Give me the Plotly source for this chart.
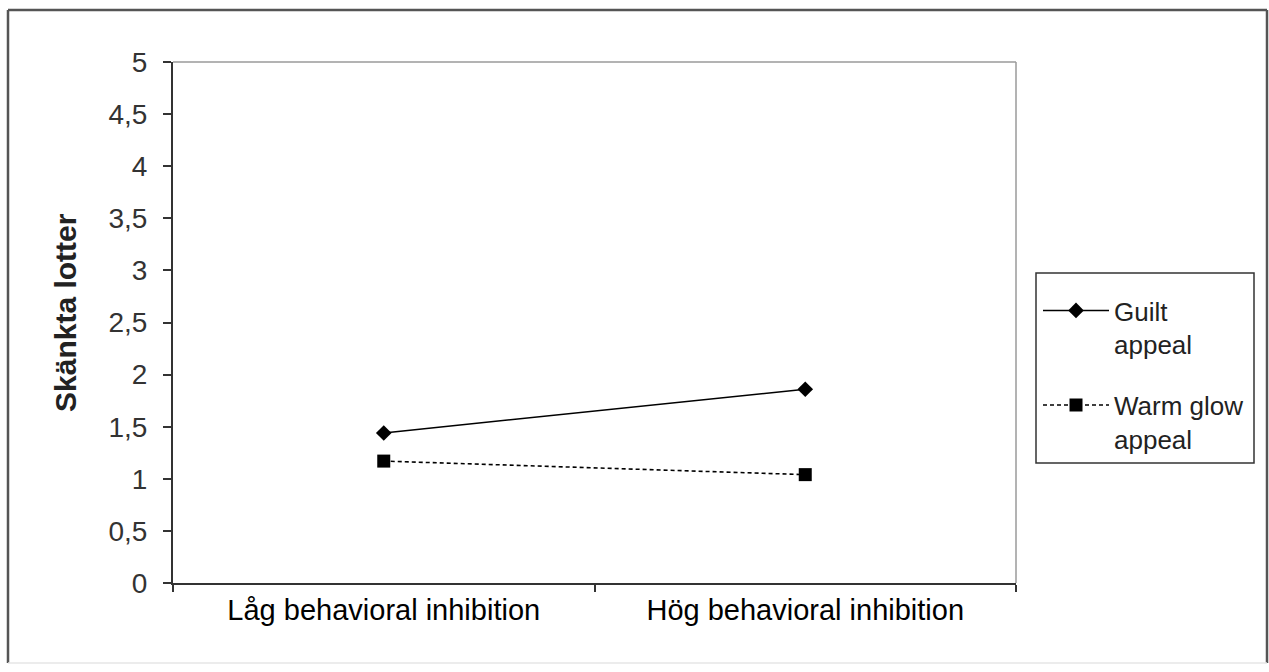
import plotly.graph_objects as go

categories = ["Låg behavioral inhibition", "Hög behavioral inhibition"]
guilt = [1.44, 1.86]
warm_glow = [1.17, 1.04]
series_names = ["Guilt<br>appeal", "Warm glow<br>appeal"]
y_ticks = [0, 0.5, 1, 1.5, 2, 2.5, 3, 3.5, 4, 4.5, 5]
y_title = "<b>Skänkta lotter</b>"

W, H = 1269, 672
L, R, T, B = 173, 1016, 62, 583
pw, ph = R - L, B - T

def px(x):
    return (x - L) / pw

def py(y):
    return (B - y) / ph

fig = go.Figure()
fig.add_trace(go.Scatter(
    x=categories, y=guilt, name=series_names[0], mode="lines+markers",
    line=dict(color="black", width=1.5),
    marker=dict(symbol="diamond", size=12, color="black"),
    legendgroup="a",
))
fig.add_trace(go.Scatter(
    x=categories, y=warm_glow, name=series_names[1], mode="lines+markers",
    line=dict(color="black", width=1.6, dash="4px,3px"),
    marker=dict(symbol="square", size=13, color="black"),
    legendgroup="b",
))

font_family = "Arial, Liberation Sans, sans-serif"

shapes = [
    # plot frame top and right (gray)
    dict(type="line", xref="paper", yref="paper", x0=0, x1=1, y0=1, y1=1,
         line=dict(color="#9a9a9a", width=1.5)),
    dict(type="line", xref="paper", yref="paper", x0=1, x1=1, y0=0, y1=1,
         line=dict(color="#9a9a9a", width=1.5)),
    # outer chart border
    dict(type="line", xref="paper", yref="paper", x0=px(8), x1=px(1267), y0=py(10), y1=py(10),
         line=dict(color="#555555", width=2.5)),
    dict(type="line", xref="paper", yref="paper", x0=px(8), x1=px(8), y0=py(10), y1=py(663),
         line=dict(color="#555555", width=2.5)),
    dict(type="line", xref="paper", yref="paper", x0=px(1267), x1=px(1267), y0=py(10), y1=py(663),
         line=dict(color="#555555", width=2.5)),
    dict(type="line", xref="paper", yref="paper", x0=px(8), x1=px(1267), y0=py(663), y1=py(663),
         line=dict(color="#e6e6e6", width=1.5)),
    # legend box
    dict(type="rect", xref="paper", yref="paper", x0=px(1036), x1=px(1254), y0=py(273), y1=py(463),
         line=dict(color="#333333", width=1.5), fillcolor="rgba(0,0,0,0)", layer="above"),
]

fig.update_layout(
    width=W, height=H,
    margin=dict(l=L, r=W - R, t=T, b=H - B, pad=0),
    paper_bgcolor="white", plot_bgcolor="white",
    separators=", ",
    font=dict(family=font_family, color="black"),
    showlegend=True,
    shapes=shapes,
    annotations=[dict(
        text=y_title, xref="paper", yref="paper", x=px(65), y=py(313),
        xanchor="center", yanchor="middle", textangle=-90, showarrow=False,
        font=dict(size=30, family=font_family, color="#222222"),
    )],
    legend=dict(
        x=px(1038), y=py(287), xanchor="left", yanchor="top",
        borderwidth=0, bgcolor="rgba(0,0,0,0)",
        font=dict(size=26, family=font_family, color="#222222"),
        itemwidth=66, tracegroupgap=24, traceorder="grouped", valign="top",
    ),
    xaxis=dict(
        type="category", range=[-0.5, 1.5],
        showgrid=False, zeroline=False,
        showline=True, linecolor="#333333", linewidth=2,
        ticks="outside", tickson="boundaries", ticklen=7, tickwidth=1.5, tickcolor="#333333",
        tickfont=dict(size=29, family=font_family, color="black"),
    ),
    yaxis=dict(
        range=[0, 5], tickvals=y_ticks, tickformat=",.1~f",
        showgrid=False, zeroline=False,
        showline=True, linecolor="#333333", linewidth=2,
        ticks="outside", ticklen=8, tickwidth=1.5, tickcolor="#333333",
        ticklabelstandoff=10,
        tickfont=dict(size=28, family=font_family, color="#333333"),
    ),
)

fig.write_html("out.html")
